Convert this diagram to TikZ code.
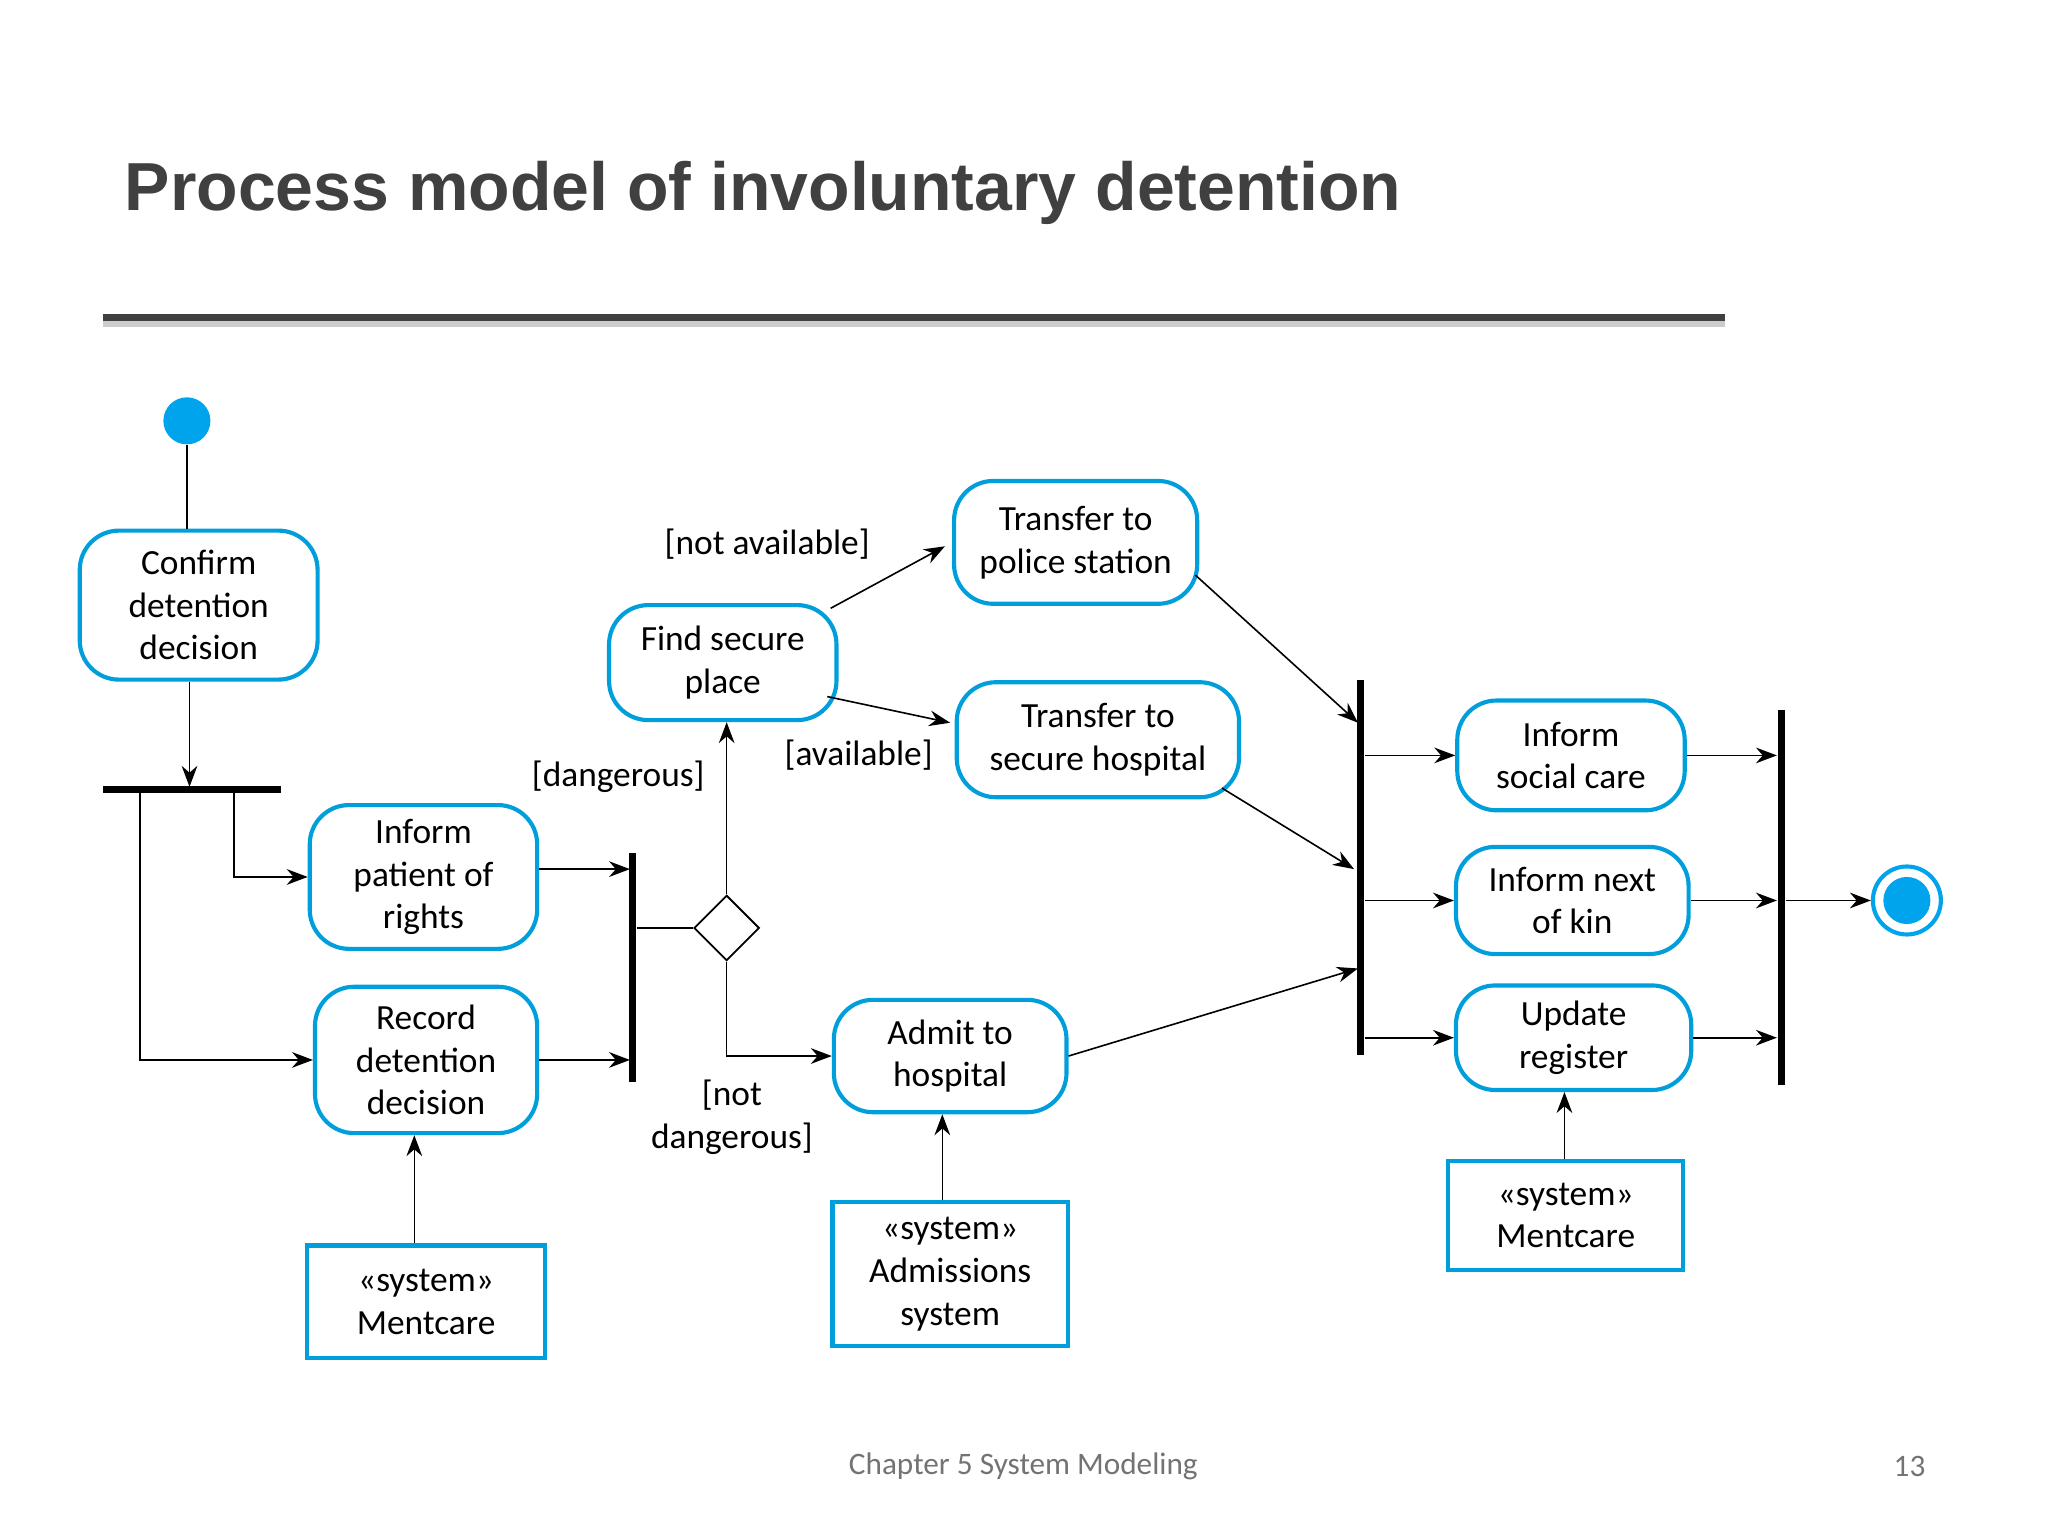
\documentclass[tikz,border=0pt]{standalone}
\usepackage{fontspec}
\setmainfont{Carlito}
\newfontfamily\titlefont{Liberation Sans}
\usetikzlibrary{arrows.meta, shapes.geometric}
\definecolor{umlblue}{RGB}{0,158,219}
\definecolor{spot}{RGB}{0,164,236}
\tikzset{
  act/.style = {draw=umlblue, line width=0.9pt, rounded corners=3mm, align=center,
                inner sep=0pt, font=\fontsize{7.7}{9.3}\selectfont},
  sys/.style = {draw=umlblue, line width=0.9pt, align=center, inner sep=0pt,
                font=\fontsize{7.7}{9.3}\selectfont},
  bar/.style = {fill=black, inner sep=0pt},
  flow/.style = {-{Stealth[length=1.6mm,width=1.2mm]}, line width=0.35pt},
  guard/.style = {font=\fontsize{7.7}{9.3}\selectfont, align=center}
}
\begin{document}
\begin{tikzpicture}[x=0.1mm,y=-0.1mm]
\useasboundingbox (0,0) rectangle (1567,1175);

% title
\node[anchor=west, text=black!75, font=\titlefont\bfseries\fontsize{14.8}{17}\selectfont] (title) at (83,148) {Process model of involuntary detention};
\fill[black!20] (79,246) rectangle (1320,250);
\fill[black!75] (79,240) rectangle (1320,246);

% start and end
\node[circle, fill=spot, minimum size=3.6mm, inner sep=0pt] (start) at (143,322) {};
\node[circle, draw=spot, line width=0.9pt, minimum size=5.2mm, inner sep=0pt] (stop) at (1459,689) {};
\fill[spot] (stop) circle (18);

% actions
\node[act, minimum width=18.2mm, minimum height=11.4mm] (confirm) at (152,463) {Confirm\\detention\\decision};
\node[act, minimum width=17.4mm, minimum height=11mm] (inform) at (324,671) {Inform\\patient of\\rights};
\node[act, minimum width=17mm, minimum height=11.2mm] (record) at (326,811) {Record\\detention\\decision};
\node[act, minimum width=17.4mm, minimum height=8.8mm] (find) at (553,507) {Find secure\\place};
\node[act, minimum width=18.6mm, minimum height=9.4mm] (police) at (823,415) {Transfer to\\police station};
\node[act, minimum width=21.6mm, minimum height=8.8mm] (secure) at (840,566) {Transfer to\\secure hospital};
\node[act, minimum width=17.8mm, minimum height=8.6mm] (admit) at (727,808) {Admit to\\hospital};
\node[act, minimum width=17.4mm, minimum height=8.4mm] (social) at (1202,578) {Inform\\social care};
\node[act, minimum width=17.8mm, minimum height=8.2mm] (kin) at (1203,689) {Inform next\\of kin};
\node[act, minimum width=18mm, minimum height=8mm] (update) at (1204,794) {Update\\register};

% systems
\node[sys, minimum width=18.2mm, minimum height=8.6mm] (ment1) at (326,996) {«system»\\Mentcare};
\node[sys, minimum width=18mm, minimum height=11mm] (adm) at (727,975) {«system»\\Admissions\\system};
\node[sys, minimum width=18mm, minimum height=8.4mm] (ment2) at (1198,930) {«system»\\Mentcare};

% bars and decision
\node[bar, minimum width=13.6mm, minimum height=0.55mm] (fork) at (147,604) {};
\node[bar, minimum width=0.55mm, minimum height=17.5mm] (join) at (484,740) {};
\node[bar, minimum width=0.55mm, minimum height=28.7mm] (fork2) at (1041,664) {};
\node[bar, minimum width=0.55mm, minimum height=28.7mm] (join2) at (1363,687) {};
\node[diamond, draw, line width=0.4pt, minimum size=5mm, inner sep=0pt] (dec) at (556,710) {};

% guards
\node[guard] (g1) at (587,416) {[not available]};
\node[guard] (g2) at (657,578) {[available]};
\node[guard] (g3) at (473,594) {[dangerous]};
\node[guard] (g4) at (560,855) {[not\\dangerous]};

% points on the bars
\coordinate (f1) at (145,602);
\coordinate (j1) at (482,665);
\coordinate (j2) at (482,811);
\coordinate (k1) at (1039,553);
\coordinate (k2) at (1036,665);
\coordinate (k3) at (1039,741);

% flows
\draw[line width=0.35pt] (start) -- (start |- confirm.north);
\draw[flow] (confirm.south -| f1) -- (f1);
\draw[flow] (179,606) |- (inform.west);
\draw[flow] (107,606) |- (record.west);
\draw[flow] (ment1.north -| 317,0) -- (record.south -| 317,0);
\draw[flow] (inform.east |- j1) -- (j1);
\draw[flow] (record.east |- j2) -- (j2);
\draw[line width=0.35pt] (join.east |- dec) -- (dec.west);
\draw[flow] (dec.north) -- (find.south -| dec);
\draw[flow] (dec.south) |- (admit.west);
\draw[flow] (find.north east) ++(-6,4) -- (723,418);
\draw[flow] (633,533) -- (727,553);
\draw[flow] (adm.north -| 721,0) -- (admit.south -| 721,0);
\draw[flow] (police.east) ++(-3,25) -- (k1);
\draw[flow] (935,603) -- (k2);
\draw[flow] (admit.east) -- (k3);
\foreach \b in {social, kin, update} {
  \draw[flow] (fork2.east |- \b.west) -- (\b.west);
  \draw[flow] (\b.east) -- (join2.west |- \b.east);
}
\draw[flow] (ment2.north -| 1197,0) -- (update.south -| 1197,0);
\draw[flow] (join2.east |- stop) -- (stop.west);

% footer
\node[text=black!55, font=\fontsize{6.8}{8}\selectfont] (foot) at (783,1122) {Chapter 5 System Modeling};
\node[text=black!55, font=\fontsize{6.8}{8}\selectfont] (page) at (1461,1122) {13};
\end{tikzpicture}
\end{document}
